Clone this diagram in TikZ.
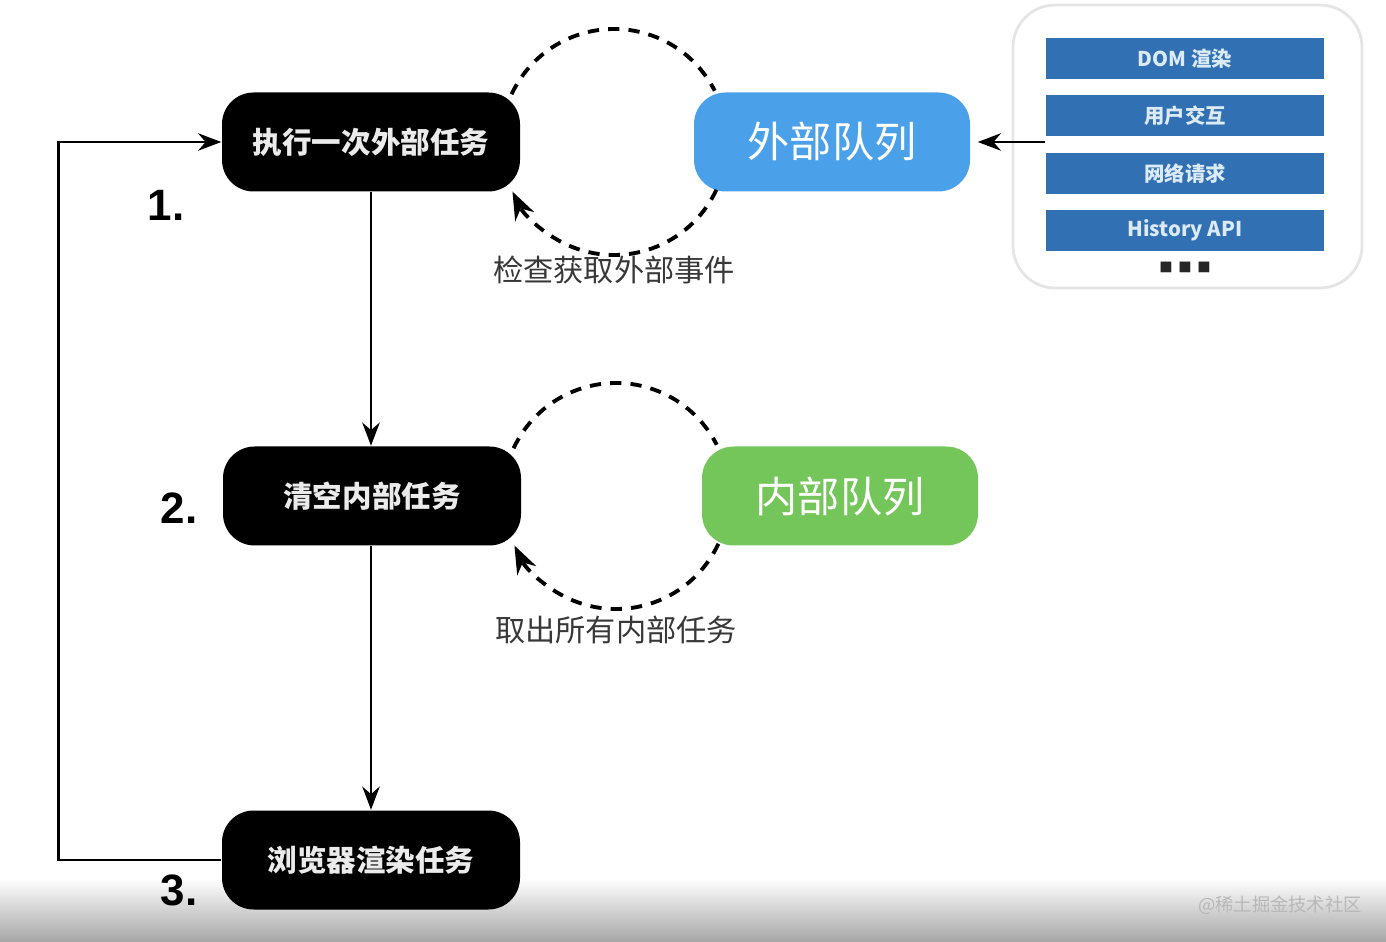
\documentclass[tikz,border=0pt]{standalone}
\usepackage{fontspec}
\setmainfont{Noto Sans CJK SC}
\newfontfamily\numfont{Liberation Sans}
\usepackage{tikz}
\usetikzlibrary{positioning,arrows.meta,calc}

\definecolor{qblue}{HTML}{4BA0EA}
\definecolor{qgreen}{HTML}{74C65A}
\definecolor{srcblue}{HTML}{3170B3}
\definecolor{srctext}{HTML}{DCEAF6}

\begin{document}
\begin{tikzpicture}[
  >=Stealth,
  task/.style={fill=black, rounded corners=9pt, text=white!92!black, align=center,
    font=\fontsize{8.4}{10}\selectfont\bfseries, minimum width=2.98cm, minimum height=0.99cm},
  queue/.style={rounded corners=9pt, text=white, align=center,
    font=\fontsize{12}{14}\selectfont, minimum width=2.76cm, minimum height=0.99cm},
  srcbar/.style={fill=srcblue, text=srctext, font=\fontsize{5.8}{7}\selectfont\bfseries,
    minimum width=2.78cm, minimum height=0.41cm, inner sep=0pt},
  stepnum/.style={font=\numfont\fontsize{12.5}{14}\selectfont\bfseries},
  cyclabel/.style={text=black!78, font=\fontsize{8.6}{10}\selectfont},
  arr/.style={->, line width=0.8pt},
  cyc/.style={line width=1.1pt, dash pattern=on 3.2pt off 2.6pt},
]
\useasboundingbox (0,0) rectangle (13.86,-9.42);
% 底部灰色渐变条
\shade[top color=white, bottom color=black!35] (0,-8.78) rectangle (13.86,-9.42);
\node[text=black!28, font=\fontsize{5.2}{6}\selectfont] (mark) at (12.80,-9.05) {@稀土掘金技术社区};

% 左侧三个任务
\node[task] (t1) at (3.71,-1.42) {执行一次外部任务};
\node[task] (t2) at (3.72,-4.96) {清空内部任务};
\node[task] (t3) at (3.71,-8.60) {浏览器渲染任务};

\node[stepnum] (n1) at (1.66,-2.05) {1.};
\node[stepnum] (n2) at (1.79,-5.08) {2.};
\node[stepnum] (n3) at (1.79,-8.90) {3.};

% 队列
\node[queue, fill=qblue] (q1) at (8.32,-1.42) {外部队列};
\node[queue, fill=qgreen] (q2) at (8.40,-4.96) {内部队列};

% 外部事件来源
\draw[black!10, line width=0.8pt, rounded corners=12pt, fill=white] (10.13,-0.05) rectangle (13.62,-2.88);
\node[srcbar] (s1) at (11.85,-0.585) {DOM 渲染};
\node[srcbar, below=0.15cm of s1] (s2) {用户交互};
\node[srcbar, below=0.15cm of s2] (s3) {网络请求};
\node[srcbar, below=0.15cm of s3] (s4) {History API};
\node[font=\fontsize{3.8}{5}\selectfont, text=black!85, inner sep=0pt] (dots) at (11.85,-2.67) {■\hspace{1.6pt}■\hspace{1.6pt}■};

% 主流程
\draw[arr] (t1.south) -- (t1.south |- t2.north);
\draw[arr] (t2.south -| t1.south) -- (t3.north);
\draw[arr] (t3.west) -- ++(-1.63,0) |- (t1.west);
\coordinate (srcin) at (s1.west |- q1.east);
\draw[arr] (srcin) -- ([xshift=2pt]q1.east);

% 虚线循环：外部
\coordinate (c1) at (6.14,-1.42);
\draw[cyc] ($(c1)+(155:1.13)$) arc[start angle=155, end angle=27, radius=1.13];
\draw[cyc, ->] ($(c1)+(-25:1.13)$) arc[start angle=-25, end angle=-154, radius=1.13];
\node[cyclabel] (l1) at (6.14,-2.70) {检查获取外部事件};

% 虚线循环：内部
\coordinate (c2) at (6.16,-4.96);
\draw[cyc] ($(c2)+(155:1.13)$) arc[start angle=155, end angle=27, radius=1.13];
\draw[cyc, ->] ($(c2)+(-25:1.13)$) arc[start angle=-25, end angle=-154, radius=1.13];
\node[cyclabel] (l2) at (6.16,-6.30) {取出所有内部任务};
\end{tikzpicture}
\end{document}
